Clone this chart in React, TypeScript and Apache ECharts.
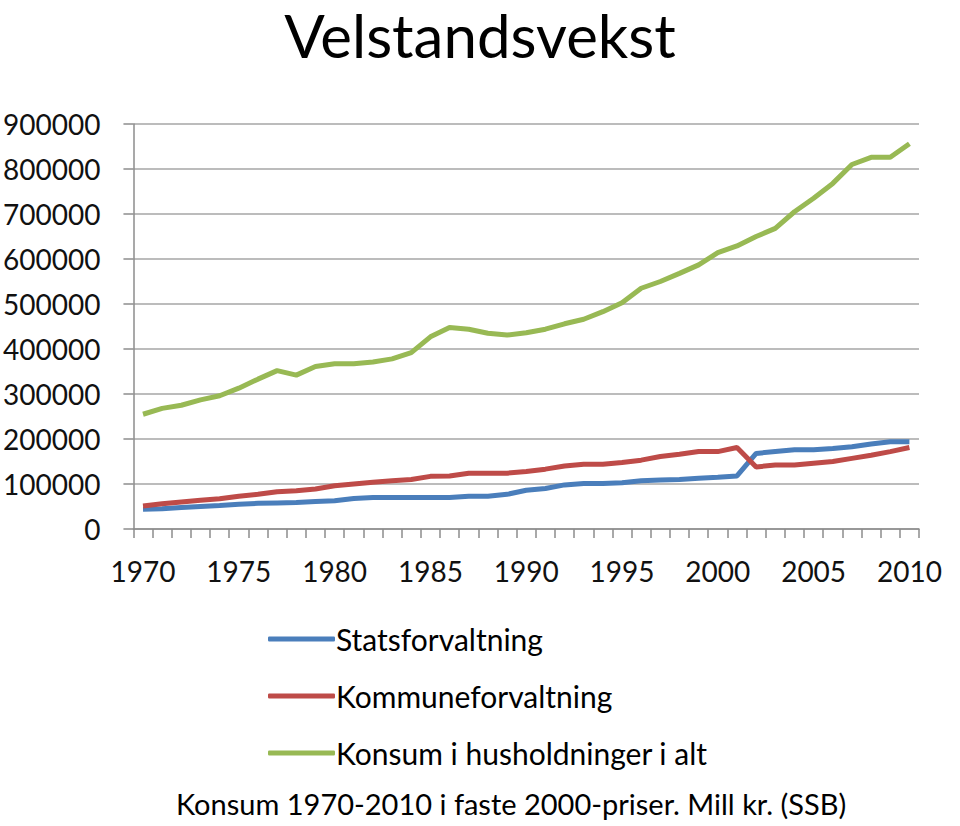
import React, { useEffect, useRef } from "react";
import * as echarts from "echarts";

const years: string[] = [];
for (let y = 1970; y <= 2010; y++) years.push(String(y));

const statsforvaltning = [
  44000, 45000, 48000, 50000, 52000, 55000, 57000, 58000, 59000, 61000,
  63000, 68000, 70000, 70000, 70000, 70000, 70000, 73000, 73000, 77000,
  86000, 90000, 98000, 101000, 101000, 103000, 107000, 109000, 110000, 113000,
  115000, 118000, 168000, 172000, 176000, 176000, 179000, 183000, 189000, 194000,
  194000,
];

const kommuneforvaltning = [
  51000, 56000, 60000, 64000, 67000, 73000, 77000, 83000, 85000, 89000,
  96000, 100000, 104000, 107000, 110000, 117000, 118000, 124000, 124000, 124000,
  128000, 133000, 140000, 144000, 144000, 148000, 153000, 161000, 166000, 172000,
  172000, 181000, 138000, 142000, 142000, 146000, 150000, 157000, 164000, 172000,
  181000,
];

const konsum = [
  255000, 268000, 275000, 287000, 296000, 313000, 333000, 352000, 342000, 361000,
  367000, 367000, 371000, 378000, 392000, 427000, 448000, 444000, 435000, 431000,
  436000, 444000, 456000, 466000, 483000, 503000, 535000, 550000, 568000, 587000,
  614000, 629000, 650000, 668000, 705000, 735000, 768000, 810000, 826000, 826000,
  856000,
];

const seriesNames = ["Statsforvaltning", "Kommuneforvaltning", "Konsum i husholdninger i alt"];
const colors = ["#4a7ebb", "#be4b48", "#98b954"];

const titleText = "Velstandsvekst";
const captionText = "Konsum 1970-2010 i faste 2000-priser. Mill kr. (SSB)";

const FONT = "Lato, 'Open Sans', 'Liberation Sans', sans-serif";

export default function App() {
  const ref = useRef<HTMLDivElement>(null);
  useEffect(() => {
    if (!ref.current) return;
    const chart = echarts.init(ref.current, undefined, { renderer: "svg" });
    const data = [statsforvaltning, kommuneforvaltning, konsum];
    chart.setOption({
      animation: false,
      backgroundColor: "#ffffff",
      color: colors,
      title: {
        text: titleText,
        left: "center",
        top: 5,
        padding: 0,
        textStyle: { fontFamily: FONT, fontSize: 60, fontWeight: "normal", color: "#000" },
      },
      grid: { left: 133, right: 41, top: 124, bottom: 297, containLabel: false },
      xAxis: {
        type: "category",
        data: years,
        boundaryGap: true,
        axisLine: { lineStyle: { color: "#8c8c8c", width: 1.5 } },
        axisTick: { show: true, interval: 0, length: 9, lineStyle: { color: "#8c8c8c", width: 1.5 } },
        axisLabel: {
          interval: (i: number) => i % 5 === 0,
          fontFamily: FONT,
          fontSize: 28,
          color: "#111",
          margin: 28,
        },
      },
      yAxis: {
        type: "value",
        min: 0,
        max: 900000,
        interval: 100000,
        axisLine: { show: true, lineStyle: { color: "#8c8c8c", width: 1.5 } },
        axisTick: { show: true, length: 10, lineStyle: { color: "#8c8c8c", width: 1.5 } },
        splitLine: { lineStyle: { color: "#a6a6a6", width: 1.5 } },
        axisLabel: {
          fontFamily: FONT,
          fontSize: 28,
          color: "#111",
          margin: 33,
          formatter: (v: number) => String(v),
        },
      },
      legend: {
        orient: "vertical",
        left: 263,
        top: 619,
        itemWidth: 67,
        itemHeight: 5,
        itemGap: 27,
        icon: "roundRect",
        textStyle: { fontFamily: FONT, fontSize: 30, color: "#000", padding: [0, 0, 0, -4] },
        data: seriesNames,
      },
      series: seriesNames.map((name, i) => ({
        name,
        type: "line",
        data: data[i],
        showSymbol: false,
        symbol: "none",
        lineStyle: { width: 5, color: colors[i] },
        itemStyle: { color: colors[i] },
      })),
      graphic: [
        {
          type: "text",
          left: 176,
          top: 789,
          style: { text: captionText, fontFamily: FONT, fontSize: 29, fill: "#000" },
        },
      ],
    });
    return () => chart.dispose();
  }, []);
  return (
    <div
      ref={ref}
      style={{ position: "absolute", left: 0, top: 0, width: 960, height: 826 }}
    />
  );
}
